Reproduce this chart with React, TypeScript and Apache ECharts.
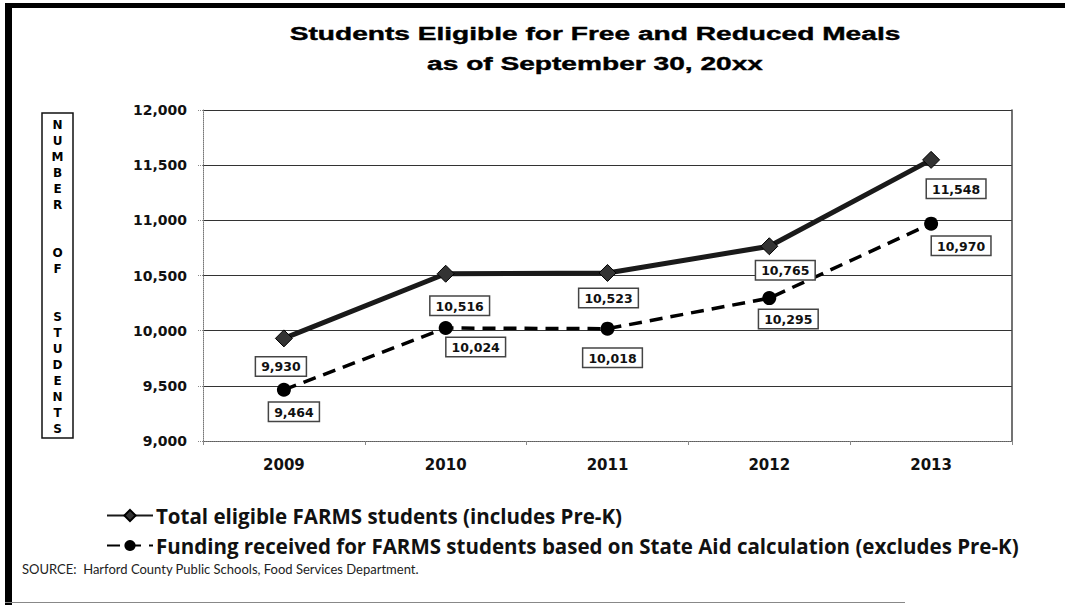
import React, { useEffect, useRef } from "react";
import * as echarts from "echarts";

const years = ["2009", "2010", "2011", "2012", "2013"];
const totalEligible = [9930, 10516, 10523, 10765, 11548];
const fundingReceived = [9464, 10024, 10018, 10295, 10970];
const seriesNames = [
  "Total eligible FARMS students (includes Pre-K)",
  "Funding received for FARMS students based on State Aid calculation (excludes Pre-K)",
];
const titleLines = ["Students Eligible for Free and Reduced Meals", "as of September 30, 20xx"];
const yAxisTitle = ["N", "U", "M", "B", "E", "R", "", "", "O", "F", "", "", "S", "T", "U", "D", "E", "N", "T", "S"];
const sourceNote = "SOURCE:  Harford County Public Schools, Food Services Department.";
const yMin = 9000;
const yMax = 12000;
const yStep = 500;

// label nudges (style only)
const totalLabelOffsets = [[-3, 5], [14, 9], [1, 2], [16, 1], [25, 6]];
const fundingLabelOffsets = [[10, 1], [30, -2], [5, 8], [19, 0], [30, 1]];

const fmt = (v: number) => v.toLocaleString("en-US");

const labelBox = {
  show: true,
  position: "bottom",
  backgroundColor: "#fff",
  borderColor: "#444",
  borderWidth: 1.5,
  padding: [3, 5, 2, 5],
  color: "#111",
  fontFamily: "DejaVu Sans",
  fontWeight: "bold",
  fontSize: 12.5,
  formatter: (p: any) => fmt(p.value),
};

export default function App() {
  const ref = useRef<HTMLDivElement>(null);
  useEffect(() => {
    if (!ref.current) return;
    const chart = echarts.init(ref.current, null, { renderer: "svg" });
    chart.setOption({
      animation: false,
      backgroundColor: "#fff",
      grid: { left: 203, right: 53, top: 110, bottom: 164, containLabel: false },
      xAxis: {
        type: "category",
        data: years,
        boundaryGap: true,
        axisLine: { show: true, lineStyle: { color: "#777", type: "dotted", width: 1 } },
        axisTick: { show: true, length: 4, lineStyle: { color: "#888" } },
        axisLabel: {
          margin: 16,
          color: "#111",
          fontFamily: "DejaVu Sans",
          fontWeight: "bold",
          fontSize: 15,
        },
      },
      yAxis: [
        {
          type: "value",
          min: yMin,
          max: yMax,
          interval: yStep,
          axisLine: { show: true, lineStyle: { color: "#777", type: "dotted", width: 1 } },
          axisTick: { show: true, length: 5, lineStyle: { color: "#888", type: "dotted" } },
          splitLine: { show: true, lineStyle: { color: "#333", width: 1 } },
          axisLabel: {
            margin: 16,
            color: "#111",
            fontFamily: "DejaVu Sans",
            fontWeight: "bold",
            fontSize: 14,
            formatter: (v: number) => fmt(v),
          },
        },
        {
          type: "value",
          position: "right",
          min: yMin,
          max: yMax,
          interval: yStep,
          axisLine: { show: true, lineStyle: { color: "#444", width: 1.5 } },
          axisTick: { show: false },
          axisLabel: { show: false },
          splitLine: { show: false },
        },
      ],
      legend: {
        orient: "vertical",
        left: 106,
        top: 505,
        itemWidth: 46,
        itemHeight: 14,
        itemGap: 9,
        padding: 0,
        textStyle: {
          color: "#111",
          fontFamily: "Open Sans",
          fontWeight: "bold",
          fontSize: 20.5,
          lineHeight: 20,
          padding: [0, 0, 0, -2],
        },
        data: seriesNames,
      },
      series: [
        {
          name: seriesNames[0],
          type: "line",
          data: totalEligible.map((v, i) => ({
            value: v,
            label: { offset: totalLabelOffsets[i] },
          })),
          symbol: "diamond",
          symbolSize: 17,
          lineStyle: { color: "#1a1a1a", width: 5 },
          itemStyle: { color: "#333", borderColor: "#000", borderWidth: 1 },
          label: labelBox,
          z: 3,
        },
        {
          name: seriesNames[1],
          type: "line",
          data: fundingReceived.map((v, i) => ({
            value: v,
            label: { offset: fundingLabelOffsets[i] },
          })),
          symbol: "circle",
          symbolSize: 14,
          lineStyle: { color: "#000", width: 3.5, type: [13, 8] },
          itemStyle: { color: "#000" },
          label: labelBox,
          z: 3,
        },
      ],
      graphic: [
        { type: "rect", shape: { x: 5, y: 3, width: 7, height: 602 }, style: { fill: "#000" } },
        { type: "rect", shape: { x: 5, y: 3, width: 1060, height: 5 }, style: { fill: "#000" } },
        { type: "rect", shape: { x: 5, y: 602, width: 900, height: 1 }, style: { fill: "#888" } },
        {
          type: "text",
          x: 595,
          y: 33,
          scaleX: 1.48,
          style: {
            text: titleLines[0],
            textAlign: "center",
            textVerticalAlign: "middle",
            fill: "#000",
            stroke: "#000",
            lineWidth: 0.4,
            font: "bold 19px 'Liberation Sans', Arial, sans-serif",
          },
        },
        {
          type: "text",
          x: 595,
          y: 63,
          scaleX: 1.48,
          style: {
            text: titleLines[1],
            textAlign: "center",
            textVerticalAlign: "middle",
            fill: "#000",
            stroke: "#000",
            lineWidth: 0.4,
            font: "bold 19px 'Liberation Sans', Arial, sans-serif",
          },
        },
        {
          type: "rect",
          shape: { x: 42, y: 113, width: 31, height: 325 },
          style: { fill: "#fff", stroke: "#111", lineWidth: 1.5 },
        },
        {
          type: "text",
          x: 57.5,
          y: 117,
          style: {
            text: yAxisTitle.join("\n"),
            textAlign: "center",
            textVerticalAlign: "top",
            lineHeight: 16,
            fill: "#000",
            font: "bold 12px 'DejaVu Sans', sans-serif",
          },
        },
        {
          type: "text",
          x: 22,
          y: 569,
          style: {
            text: sourceNote,
            textVerticalAlign: "middle",
            fill: "#222",
            font: "13px Lato, sans-serif",
          },
        },
      ],
    });
    return () => chart.dispose();
  }, []);
  return (
    <div
      ref={ref}
      style={{ position: "absolute", left: 0, top: 0, width: 1065, height: 605 }}
    />
  );
}
